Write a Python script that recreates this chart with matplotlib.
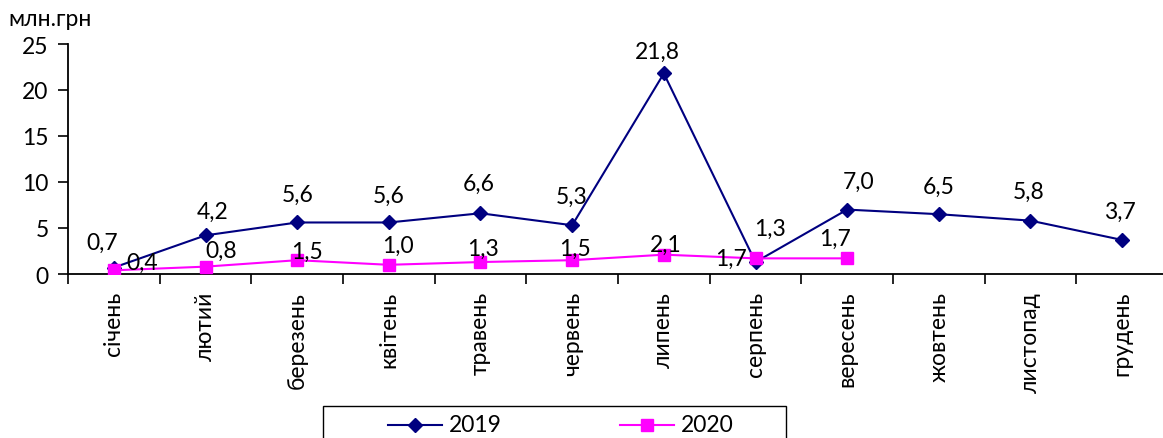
import numpy as np
import matplotlib
matplotlib.use("Agg")
import matplotlib.pyplot as plt
from matplotlib.lines import Line2D
from matplotlib.patches import Rectangle

plt.rcParams['font.family'] = ['Lato', 'DejaVu Sans']

months = ["січень", "лютий", "березень", "квітень", "травень", "червень",
          "липень", "серпень", "вересень", "жовтень", "листопад", "грудень"]
series_names = ["2019", "2020"]
values_2019 = [0.7, 4.2, 5.6, 5.6, 6.6, 5.3, 21.8, 1.3, 7.0, 6.5, 5.8, 3.7]
values_2020 = [0.4, 0.8, 1.5, 1.0, 1.3, 1.5, 2.1, 1.7, 1.7]
y_ticks = [0, 5, 10, 15, 20, 25]
unit_label = "млн.грн"

# label offsets in pixels (dx, dy), copied by eye from the reference
offs_2019 = [(-12, 25), (7, 24), (1, 28), (0, 27), (-2, 30), (-1, 29),
             (-6, 22), (14, 34), (11, 28), (0, 28), (-2, 29), (-2, 29)]
offs_2020 = [(28, 8), (16, 16), (10, 9), (9, 19), (2, 14), (3, 12),
             (2, 10), (-25, 0), (-12, 20)]

W, H = 1163, 439
fig = plt.figure(figsize=(W / 100, H / 100), dpi=100)
ax = fig.add_axes([68 / W, (H - 275) / H, (1168 - 68) / W, (275 - 45) / H])

navy = "#000080"
magenta = "#FF00FF"
fs = 16.5

x19 = np.arange(len(values_2019))
x20 = np.arange(len(values_2020))
ax.plot(x19, values_2019, color=navy, lw=1.5, marker="D", ms=7, zorder=3)
ax.plot(x20, values_2020, color=magenta, lw=1.5, marker="s", ms=8, zorder=4)

fmt = lambda v: f"{v:.1f}".replace(".", ",")
for x, v, (dx, dy) in zip(x19, values_2019, offs_2019):
    ax.annotate(fmt(v), (x, v), xytext=(dx, dy), textcoords="offset pixels",
                ha="center", va="center", fontsize=fs, zorder=5)
for x, v, (dx, dy) in zip(x20, values_2020, offs_2020):
    ax.annotate(fmt(v), (x, v), xytext=(dx, dy), textcoords="offset pixels",
                ha="center", va="center", fontsize=fs, zorder=5)

ax.set_xlim(-0.5, len(months) - 0.5)
ax.set_ylim(0, 25)
ax.set_yticks(y_ticks)
ax.set_yticklabels([str(t) for t in y_ticks], fontsize=fs)
ax.tick_params(axis="y", direction="out", length=7, width=1.2, pad=7)

ax.set_xticks(np.arange(-0.5, len(months)), labels=[])
ax.set_xticks(np.arange(len(months)), labels=months, minor=True)
ax.tick_params(axis="x", which="major", direction="out", length=7, width=1.2)
ax.tick_params(axis="x", which="minor", length=0, pad=12, labelsize=fs,
               labelrotation=90)

for s in ["top", "right"]:
    ax.spines[s].set_visible(False)
for s in ["left", "bottom"]:
    ax.spines[s].set_linewidth(1.3)

fig.text(8 / W, 1 - 20 / H, unit_label, fontsize=fs, ha="left", va="center")

# legend box, drawn by hand so it can sit half off the bottom edge
fig.add_artist(Rectangle((323 / W, -20 / H), (786 - 323) / W, (H - 407 + 20) / H,
                         transform=fig.transFigure, fill=False, ec="black", lw=1))
ly = 1 - 426 / H
for (x0, name, col, mk, ms) in [(388, series_names[0], navy, "D", 7),
                                (620, series_names[1], magenta, "s", 8)]:
    fig.add_artist(Line2D([x0 / W, (x0 + 54) / W], [ly, ly], color=col, lw=1.5,
                          transform=fig.transFigure))
    fig.add_artist(Line2D([(x0 + 27) / W], [ly], color=col, marker=mk, ms=ms,
                          transform=fig.transFigure))
    fig.text((x0 + 61) / W, ly, name, fontsize=fs, ha="left", va="center")

fig.savefig("out.png", dpi=100)
